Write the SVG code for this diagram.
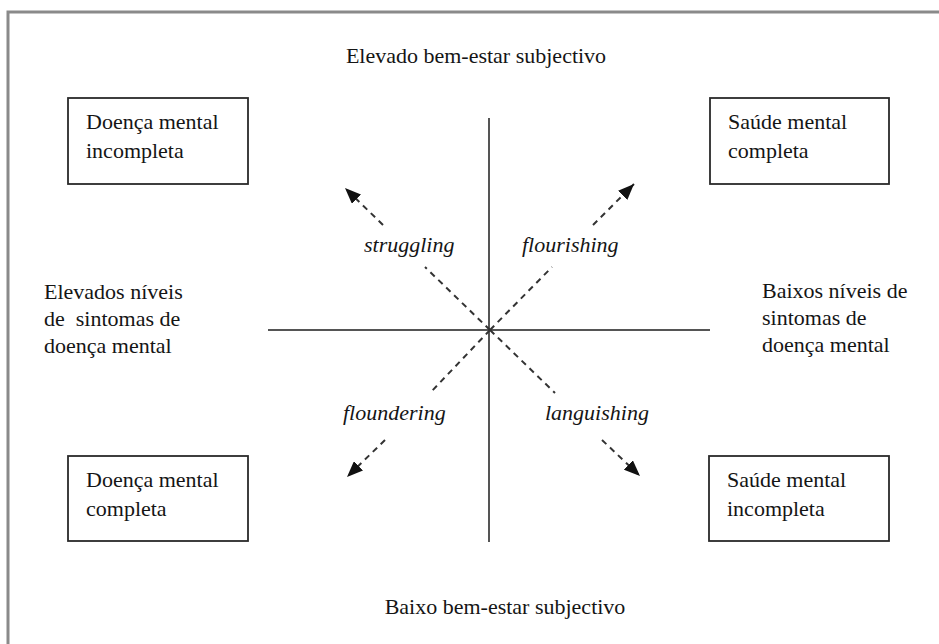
<svg xmlns="http://www.w3.org/2000/svg" width="939" height="644" viewBox="0 0 939 644">
<defs>
<style>
text{font-family:"Liberation Serif","Times New Roman",serif;font-size:22px;fill:#151515}
.it{font-style:italic;font-size:22px}
.box{fill:#fff;stroke:#2a2a2a;stroke-width:1.8}
.axis{stroke:#555;stroke-width:2;fill:none}
.dash{stroke:#333;stroke-width:2;stroke-dasharray:6 5;fill:none}
</style>
<marker id="ah" markerUnits="userSpaceOnUse" markerWidth="17" markerHeight="13" refX="16" refY="6.5" orient="auto">
<path d="M0,0 L16,6.5 L0,13 Z" fill="#111"/>
</marker>
</defs>
<rect width="939" height="644" fill="#fff"/>
<polyline points="939,12 8,12 8,644" fill="none" stroke="#8a8a8a" stroke-width="3"/>

<g id="label-top"><text x="476" y="63" text-anchor="middle">Elevado bem-estar subjectivo</text></g>
<g id="label-bottom"><text x="505" y="614" text-anchor="middle">Baixo bem-estar subjectivo</text></g>
<g id="label-left"><text x="44" y="299">Elevados níveis</text><text x="44" y="326" xml:space="preserve">de  sintomas de</text><text x="44" y="353">doença mental</text></g>
<g id="label-right"><text x="762" y="298">Baixos níveis de</text><text x="762" y="325">sintomas de</text><text x="762" y="352">doença mental</text></g>

<g id="box-tl"><rect class="box" x="68" y="98" width="180" height="86"/><text x="86" y="129">Doença mental</text><text x="86" y="158">incompleta</text></g>
<g id="box-tr"><rect class="box" x="710" y="98" width="179" height="86"/><text x="728" y="129">Saúde mental</text><text x="728" y="158">completa</text></g>
<g id="box-bl"><rect class="box" x="68" y="456" width="180" height="85"/><text x="86" y="487">Doença mental</text><text x="86" y="516">completa</text></g>
<g id="box-br"><rect class="box" x="709" y="456" width="180" height="85"/><text x="727" y="487">Saúde mental</text><text x="727" y="516">incompleta</text></g>

<g id="connectors">
<line class="axis" x1="489" y1="118" x2="489" y2="542"/>
<line class="axis" x1="268" y1="330" x2="710" y2="330"/>
<line class="dash" x1="490" y1="330" x2="425" y2="267"/>
<line class="dash" x1="383" y1="225" x2="345" y2="188" marker-end="url(#ah)"/>
<line class="dash" x1="490" y1="330" x2="552" y2="267"/>
<line class="dash" x1="593" y1="225" x2="634" y2="184" marker-end="url(#ah)"/>
<line class="dash" x1="490" y1="330" x2="430" y2="393"/>
<line class="dash" x1="385" y1="440" x2="347" y2="477" marker-end="url(#ah)"/>
<line class="dash" x1="490" y1="330" x2="555" y2="393"/>
<line class="dash" x1="602" y1="440" x2="640" y2="476" marker-end="url(#ah)"/>
</g>

<g id="quadrant-labels">
<text class="it" x="364" y="252">struggling</text>
<text class="it" x="522" y="252">flourishing</text>
<text class="it" x="343" y="420">floundering</text>
<text class="it" x="545" y="420">languishing</text>
</g>
</svg>
